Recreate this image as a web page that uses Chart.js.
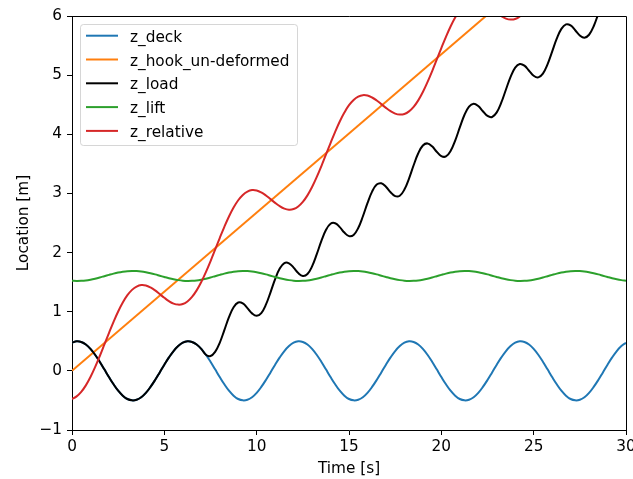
<!DOCTYPE html>
<html>
<head>
<meta charset="utf-8">
<script src="https://cdn.jsdelivr.net/npm/chart.js@4.4.1/dist/chart.umd.min.js"></script>
<style>
  html, body { margin: 0; padding: 0; background: #fff; }
  #wrap { width: 633px; height: 479px; }
</style>
</head>
<body>
<div id="wrap"><canvas id="myChart" width="633" height="479"></canvas></div>
<script>
// time samples [s]
const timeFine = [
  0, 0.25, 0.5, 0.75, 1, 1.25, 1.5, 1.75, 2, 2.25, 2.5, 2.75,
  3, 3.25, 3.5, 3.75, 4, 4.25, 4.5, 4.75, 5, 5.25, 5.5, 5.75,
  6, 6.25, 6.5, 6.75, 7, 7.25, 7.5, 7.75, 8, 8.25, 8.5, 8.75,
  9, 9.25, 9.5, 9.75, 10, 10.25, 10.5, 10.75, 11, 11.25, 11.5, 11.75,
  12, 12.25, 12.5, 12.75, 13, 13.25, 13.5, 13.75, 14, 14.25, 14.5, 14.75,
  15, 15.25, 15.5, 15.75, 16, 16.25, 16.5, 16.75, 17, 17.25, 17.5, 17.75,
  18, 18.25, 18.5, 18.75, 19, 19.25, 19.5, 19.75, 20, 20.25, 20.5, 20.75,
  21, 21.25, 21.5, 21.75, 22, 22.25, 22.5, 22.75, 23, 23.25, 23.5, 23.75,
  24, 24.25, 24.5, 24.75, 25, 25.25, 25.5, 25.75, 26, 26.25, 26.5, 26.75,
  27, 27.25, 27.5, 27.75, 28, 28.25, 28.5, 28.75, 29, 29.25, 29.5, 29.75,
  30
];
const hookTime = [0, 30];

// values [m]
const deckValues = [
  0.476, 0.499, 0.489, 0.446, 0.372, 0.272, 0.155, 0.026, -0.104, -0.227, -0.335, -0.419,
  -0.476, -0.499, -0.489, -0.446, -0.372, -0.272, -0.155, -0.026, 0.104, 0.227, 0.335, 0.419,
  0.476, 0.499, 0.489, 0.446, 0.372, 0.272, 0.155, 0.026, -0.104, -0.227, -0.335, -0.419,
  -0.476, -0.499, -0.489, -0.446, -0.372, -0.272, -0.155, -0.026, 0.104, 0.227, 0.335, 0.419,
  0.476, 0.499, 0.489, 0.446, 0.372, 0.272, 0.155, 0.026, -0.104, -0.227, -0.335, -0.419,
  -0.476, -0.499, -0.489, -0.446, -0.372, -0.272, -0.155, -0.026, 0.104, 0.227, 0.335, 0.419,
  0.476, 0.499, 0.489, 0.446, 0.372, 0.272, 0.155, 0.026, -0.104, -0.227, -0.335, -0.419,
  -0.476, -0.499, -0.489, -0.446, -0.372, -0.272, -0.155, -0.026, 0.104, 0.227, 0.335, 0.419,
  0.476, 0.499, 0.489, 0.446, 0.372, 0.272, 0.155, 0.026, -0.104, -0.227, -0.335, -0.419,
  -0.476, -0.499, -0.489, -0.446, -0.372, -0.272, -0.155, -0.026, 0.104, 0.227, 0.335, 0.419,
  0.476
];
const hookValues = [0, 8.03];
const loadValues = [
  0.476, 0.499, 0.489, 0.446, 0.372, 0.272, 0.155, 0.026, -0.104, -0.227, -0.335, -0.419,
  -0.476, -0.499, -0.489, -0.446, -0.372, -0.272, -0.155, -0.026, 0.104, 0.227, 0.335, 0.419,
  0.476, 0.499, 0.489, 0.446, 0.372, 0.272, 0.25, 0.32, 0.474, 0.688, 0.908, 1.076,
  1.155, 1.14, 1.061, 0.972, 0.931, 0.978, 1.119, 1.328, 1.551, 1.729, 1.822, 1.819,
  1.746, 1.654, 1.604, 1.637, 1.767, 1.969, 2.193, 2.381, 2.487, 2.496, 2.43, 2.338,
  2.278, 2.298, 2.415, 2.61, 2.835, 3.031, 3.149, 3.171, 3.113, 3.021, 2.954, 2.961,
  3.065, 3.252, 3.476, 3.679, 3.81, 3.846, 3.796, 3.705, 3.631, 3.626, 3.717, 3.894,
  4.116, 4.326, 4.469, 4.518, 4.478, 4.39, 4.31, 4.293, 4.37, 4.538, 4.757, 4.972,
  5.127, 5.189, 5.16, 5.075, 4.99, 4.962, 5.026, 5.182, 5.397, 5.616, 5.782, 5.858,
  5.84, 5.759, 5.671, 5.633, 5.683, 5.827, 6.037, 6.26, 6.436, 6.525, 6.519, 6.444,
  6.353
];
const liftValues = [
  1.524, 1.52, 1.522, 1.529, 1.542, 1.559, 1.579, 1.601, 1.623, 1.644, 1.662, 1.676,
  1.686, 1.69, 1.688, 1.681, 1.668, 1.651, 1.631, 1.609, 1.587, 1.566, 1.548, 1.534,
  1.524, 1.52, 1.522, 1.529, 1.542, 1.559, 1.579, 1.601, 1.623, 1.644, 1.662, 1.676,
  1.686, 1.69, 1.688, 1.681, 1.668, 1.651, 1.631, 1.609, 1.587, 1.566, 1.548, 1.534,
  1.524, 1.52, 1.522, 1.529, 1.542, 1.559, 1.579, 1.601, 1.623, 1.644, 1.662, 1.676,
  1.686, 1.69, 1.688, 1.681, 1.668, 1.651, 1.631, 1.609, 1.587, 1.566, 1.548, 1.534,
  1.524, 1.52, 1.522, 1.529, 1.542, 1.559, 1.579, 1.601, 1.623, 1.644, 1.662, 1.676,
  1.686, 1.69, 1.688, 1.681, 1.668, 1.651, 1.631, 1.609, 1.587, 1.566, 1.548, 1.534,
  1.524, 1.52, 1.522, 1.529, 1.542, 1.559, 1.579, 1.601, 1.623, 1.644, 1.662, 1.676,
  1.686, 1.69, 1.688, 1.681, 1.668, 1.651, 1.631, 1.609, 1.587, 1.566, 1.548, 1.534,
  1.524
];
const relativeValues = [
  -0.476, -0.432, -0.355, -0.245, -0.104, 0.063, 0.247, 0.442, 0.639, 0.829, 1.004, 1.155,
  1.279, 1.369, 1.426, 1.45, 1.443, 1.41, 1.36, 1.298, 1.235, 1.178, 1.137, 1.12,
  1.13, 1.174, 1.251, 1.361, 1.502, 1.669, 1.853, 2.049, 2.246, 2.436, 2.61, 2.761,
  2.885, 2.975, 3.032, 3.056, 3.049, 3.016, 2.966, 2.904, 2.841, 2.785, 2.744, 2.726,
  2.736, 2.78, 2.857, 2.967, 3.108, 3.275, 3.459, 3.655, 3.852, 4.042, 4.217, 4.368,
  4.492, 4.581, 4.638, 4.662, 4.655, 4.622, 4.572, 4.51, 4.447, 4.391, 4.35, 4.333,
  4.343, 4.387, 4.463, 4.573, 4.714, 4.881, 5.065, 5.261, 5.458, 5.648, 5.823, 5.974,
  6.098, 6.188, 6.245, 6.268, 6.261, 6.228, 6.178, 6.116, 6.053, 5.997, 5.956, 5.939,
  5.949, 5.993, 6.07, 6.18, 6.321, 6.488, 6.671, 6.867, 7.064, 7.254, 7.429, 7.58,
  7.704, 7.794, 7.851, 7.875, 7.868, 7.835, 7.784, 7.722, 7.659, 7.603, 7.562, 7.545,
  7.555
];

const xTicks = { min: 0, max: 30, step: 5 };
const yTicks = { min: -1, max: 6, step: 1 };

const font = { family: "'DejaVu Sans'", size: 15.3, lineHeight: 1.2 };
const toPoints = (xs, ys) => xs.map((x, i) => ({ x: x, y: ys[i] }));
const minusSign = (v) => String(v).replace("-", "\u2212");

const makeSet = (label, xs, ys, color, order) => ({
  label: label,
  data: toPoints(xs, ys),
  borderColor: color,
  backgroundColor: color,
  borderWidth: 2,
  pointRadius: 0,
  tension: 0.4,
  borderJoinStyle: "round",
  fill: false,
  clip: 0,
  order: order,
});

// top and right spines
const frame = {
  id: "frame",
  afterDraw(chart) {
    const { ctx, chartArea: a } = chart;
    ctx.save();
    ctx.strokeStyle = "#000";
    ctx.lineWidth = 1;
    ctx.beginPath();
    ctx.moveTo(a.left, a.top + 0.5);
    ctx.lineTo(a.right + 0.5, a.top + 0.5);
    ctx.lineTo(a.right + 0.5, a.bottom + 1);
    ctx.stroke();
    ctx.restore();
  },
};

// matplotlib style legend in the upper left corner
const legendBox = {
  id: "legendBox",
  afterDatasetsDraw(chart) {
    const { ctx, chartArea: a } = chart;
    const sets = chart.data.datasets;
    ctx.save();
    ctx.beginPath();
    ctx.roundRect(a.left + 8.5, a.top + 8.5, 217, 121, 3);
    ctx.fillStyle = "rgba(255,255,255,0.8)";
    ctx.fill();
    ctx.strokeStyle = "rgba(204,204,204,0.8)";
    ctx.lineWidth = 1;
    ctx.stroke();
    ctx.font = "15.3px 'DejaVu Sans'";
    ctx.textBaseline = "alphabetic";
    sets.forEach((ds, i) => {
      const rowY = a.top + 19.7 + i * 23.8;
      ctx.strokeStyle = ds.borderColor;
      ctx.lineWidth = 2;
      ctx.beginPath();
      ctx.moveTo(a.left + 14, rowY);
      ctx.lineTo(a.left + 46, rowY);
      ctx.stroke();
      ctx.fillStyle = "#000";
      ctx.fillText(ds.label, a.left + 58, rowY + 6);
    });
    ctx.restore();
  },
};

const ctx = document.getElementById("myChart");

new Chart(ctx, {
  type: "line",
  data: {
    datasets: [
      makeSet("z_deck", timeFine, deckValues, "#1f77b4", 5),
      makeSet("z_hook_un-deformed", hookTime, hookValues, "#ff7f0e", 4),
      makeSet("z_load", timeFine, loadValues, "#000000", 3),
      makeSet("z_lift", timeFine, liftValues, "#2ca02c", 2),
      makeSet("z_relative", timeFine, relativeValues, "#d62728", 1),
    ],
  },
  options: {
    responsive: false,
    animation: false,
    layout: { padding: { left: 0, right: 7, top: 16, bottom: 0 } },
    plugins: {
      legend: { display: false },
      tooltip: { enabled: false },
    },
    scales: {
      x: {
        type: "linear",
        min: xTicks.min,
        max: xTicks.max,
        ticks: { stepSize: xTicks.step, padding: 3, color: "#000", font: font, callback: minusSign },
        grid: { drawOnChartArea: false, drawTicks: true, tickLength: 5, color: "#000" },
        border: { color: "#000", width: 1 },
        title: { display: true, text: "Time [s]", color: "#000", font: font, padding: { top: 0, bottom: 0.5 } },
        afterFit: (s) => {
          s.height = 49;
          s.paddingLeft = 0;
          s.paddingRight = 0;
        },
      },
      y: {
        min: yTicks.min,
        max: yTicks.max,
        ticks: { stepSize: yTicks.step, padding: 5, color: "#000", font: font, callback: minusSign },
        grid: { drawOnChartArea: false, drawTicks: true, tickLength: 5, color: "#000" },
        border: { color: "#000", width: 1 },
        title: { display: true, text: "Location [m]", color: "#000", font: font, padding: { top: 14.6, bottom: 0 } },
        afterFit: (s) => {
          s.width = 72;
          s.paddingTop = 0;
          s.paddingBottom = 0;
        },
      },
    },
  },
  plugins: [frame, legendBox],
});
</script>
</body>
</html>
